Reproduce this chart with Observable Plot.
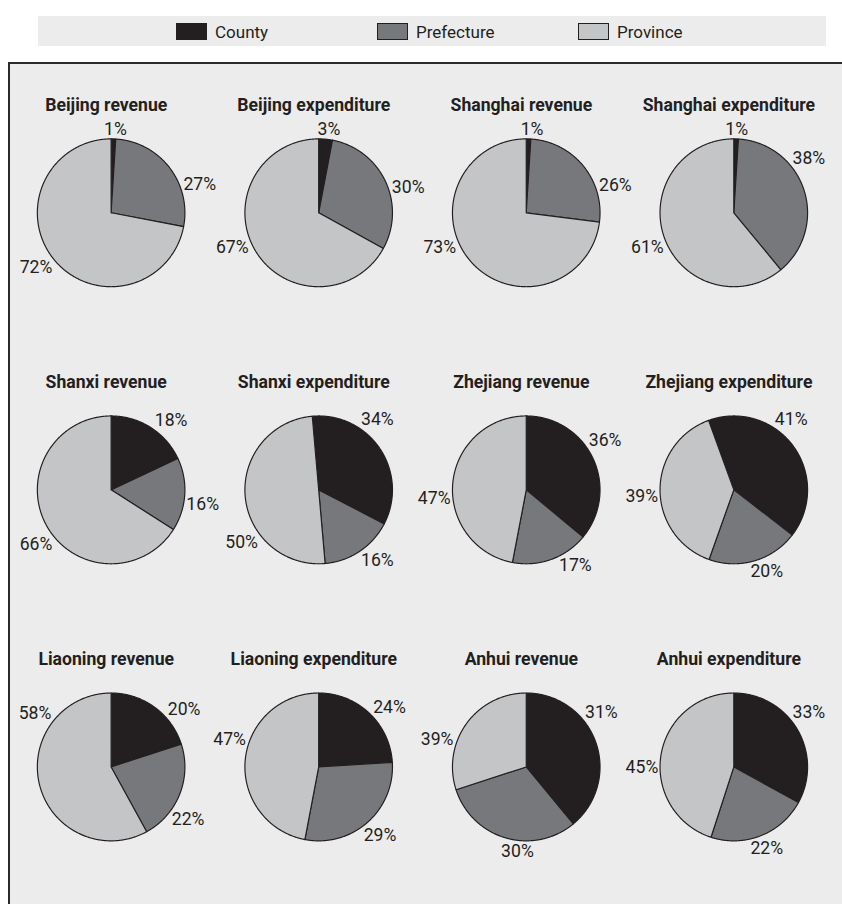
<!DOCTYPE html>
<html>
<head>
<meta charset="utf-8">
<script src="https://cdn.jsdelivr.net/npm/d3@7"></script>
<script src="https://cdn.jsdelivr.net/npm/@observablehq/plot@0.6"></script>
<style>
  html, body { margin: 0; padding: 0; }
  body {
    width: 842px; height: 904px; overflow: hidden; position: relative; background: #ffffff;
    font-family: Roboto, "Liberation Sans", sans-serif;
    color: #231f20;
  }
  #legend { position: absolute; left: 38px; top: 16px; width: 788px; height: 30px; background: #ececec; }
  .item { position: absolute; top: 7px; height: 17px; display: flex; align-items: center; font-size: 17px; white-space: nowrap; }
  .sw { width: 29px; height: 15px; border: 1px solid #231f20; margin-right: 8px; box-sizing: content-box; }
  #frame { position: absolute; left: 8px; top: 62px; width: 900px; height: 900px; background: #ececec;
           border-left: 2px solid #2b2b2b; border-top: 2px solid #2b2b2b; }
  #chart { position: absolute; left: 0; top: 63px; }
  #chart svg { overflow: visible; }
</style>
</head>
<body>
<div id="legend"></div>
<div id="frame"></div>
<div id="chart"></div>
<script>
// ---- data ----
const pieTitles = [
  "Beijing revenue", "Beijing expenditure", "Shanghai revenue", "Shanghai expenditure",
  "Shanxi revenue", "Shanxi expenditure", "Zhejiang revenue", "Zhejiang expenditure",
  "Liaoning revenue", "Liaoning expenditure", "Anhui revenue", "Anhui expenditure"
];
const levels = ["County", "Prefecture", "Province"];
const levelColors = ["#231f20", "#77787b", "#c4c5c7"];

// percentages as printed next to the wedges
const countyPct     = [1, 3, 1, 1, 18, 34, 36, 41, 20, 24, 31, 33];
const prefecturePct = [27, 30, 26, 38, 16, 16, 17, 20, 22, 29, 30, 22];
const provincePct   = [72, 67, 73, 61, 66, 50, 47, 39, 58, 47, 39, 45];

// wedge sizes as drawn in the picture (Anhui revenue's wedges do not match their printed labels)
const countyDrawn     = [1, 3, 1, 1, 18, 34, 36, 41, 20, 24, 39, 33];
const prefectureDrawn = [27, 30, 26, 38, 16, 16, 17, 20, 22, 29, 31, 22];
const provinceDrawn   = [72, 67, 73, 61, 66, 50, 47, 39, 58, 47, 30, 45];

// ---- layout settings ----
// angle of the first wedge, degrees clockwise from 12 o'clock
const firstSliceAngle = [0, 0, 0, 0, 0, -5, 0, -20, 0, 0, 0, 0];
// direction (degrees clockwise from 12 o'clock) in which each percentage label sits, as placed in the original
const countyLabelAngle     = [3, 7, 4, 2, 41, 40, 58, 39, 52, 50, 54, 54];
const prefectureLabelAngle = [72, 74, 73, 54, 99, 140, 147, 158, 124, 138, 186, 158];
const provinceLabelAngle   = [234, 248, 248, 248, 234, 236, 265, 266, 305, 287, 287, 270];

const R = 75.5;          // pie radius (px)
const TITLE_FONT = 18;
const LABEL_FONT = 18;

// ---- build tables for Plot ----
const pies = pieTitles.map((title, i) => ({ title, i, col: i % 4, row: Math.floor(i / 4) }));
const wedgePts = [];
const labels = [];
pies.forEach(p => {
  const drawn = [countyDrawn[p.i], prefectureDrawn[p.i], provinceDrawn[p.i]];
  const printed = [countyPct[p.i], prefecturePct[p.i], provincePct[p.i]];
  const lblAngle = [countyLabelAngle[p.i], prefectureLabelAngle[p.i], provinceLabelAngle[p.i]];
  const total = d3.sum(drawn);
  let a0 = firstSliceAngle[p.i] * Math.PI / 180;
  drawn.forEach((v, k) => {
    const a1 = a0 + v / total * 2 * Math.PI;
    const key = p.i + "-" + k;
    const base = { key, col: p.col, row: p.row, level: levels[k] };
    wedgePts.push({ ...base, x: 0, y: 0 });
    const n = Math.max(2, Math.ceil((a1 - a0) / (Math.PI / 360)));
    for (let j = 0; j <= n; j++) {
      const a = a0 + (a1 - a0) * j / n;
      wedgePts.push({ ...base, x: R * Math.sin(a), y: R * Math.cos(a) });
    }
    wedgePts.push({ ...base, x: 0, y: 0 });
    const am = lblAngle[k] * Math.PI / 180;
    const text = printed[k] + "%";
    const w = text.length === 2 ? 22 : 33, h = 14;
    const s = Math.sin(am), c = Math.cos(am);
    const dist = R + 2 + Math.abs(s) * w / 2 + Math.abs(c) * h / 2;
    labels.push({ col: p.col, row: p.row, text, x: dist * s, y: dist * c });
    a0 = a1;
  });
});

// ---- legend (HTML, above the chart) ----
const legend = document.getElementById("legend");
levels.forEach((lv, k) => {
  const it = document.createElement("div");
  it.className = "item";
  it.style.left = (138 + k * 201) + "px";
  const sw = document.createElement("div");
  sw.className = "sw";
  sw.style.background = levelColors[k];
  it.appendChild(sw);
  it.appendChild(document.createTextNode(lv));
  legend.appendChild(it);
});

// ---- chart ----
const chart = Plot.plot({
  width: 860,
  height: 870,
  marginTop: 10.5, marginBottom: 10.5, marginLeft: 6, marginRight: 4.4,
  fx: { domain: [0, 1, 2, 3], padding: 0, axis: null },
  fy: { domain: [0, 1, 2], padding: 0, axis: null },
  x: { domain: [-106.2, 106.2], axis: null },
  y: { domain: [-141.5, 141.5], axis: null },
  color: { domain: levels, range: levelColors },
  style: { background: "transparent", fontFamily: "Roboto, 'Liberation Sans', sans-serif", color: "#231f20" },
  marks: [
    Plot.line(wedgePts, {
      x: "x", y: "y", z: "key", fx: "col", fy: "row",
      fill: "level", stroke: "#231f20", strokeWidth: 1.2, strokeLinejoin: "round"
    }),
    Plot.text(pies, {
      fx: "col", fy: "row", x: () => 0, y: () => 110, dx: -5, text: "title",
      fontWeight: "bold", fontSize: TITLE_FONT, fill: "#231f20", lineAnchor: "middle"
    }),
    Plot.text(labels, {
      fx: "col", fy: "row", x: "x", y: "y", text: "text",
      fontSize: LABEL_FONT, fill: "#231f20", lineAnchor: "middle"
    })
  ]
});
document.getElementById("chart").appendChild(chart);
</script>
</body>
</html>
